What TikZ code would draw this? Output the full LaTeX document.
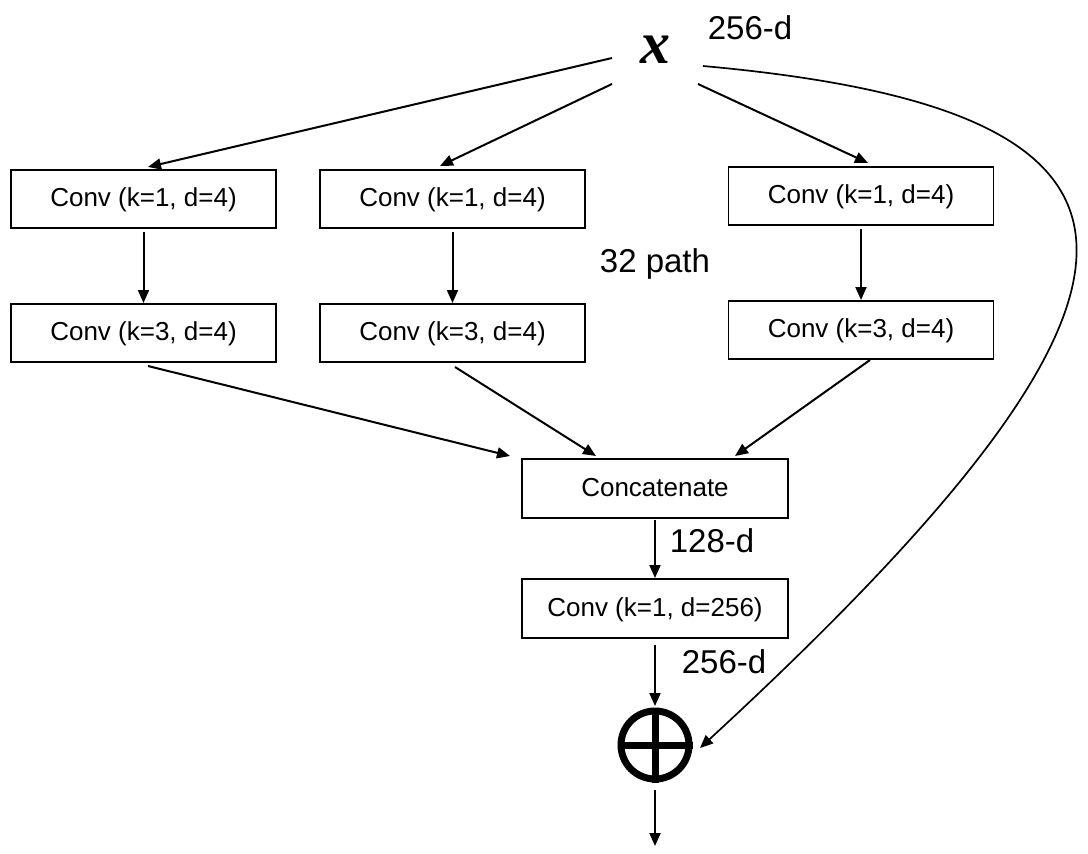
\documentclass[tikz,border=0pt]{standalone}
\usepackage{fontspec}
\newfontfamily\labelfont{Liberation Sans}
\newfontfamily\varfont{Liberation Serif}
\usetikzlibrary{arrows.meta}
\begin{document}
\begin{tikzpicture}[x=1pt,y=-1pt,
  convbox/.style={draw, line width=1.3pt, minimum width=265pt, minimum height=58pt,
    inner sep=0pt, text height=19pt, text depth=4pt, font=\labelfont\fontsize{26}{30}\selectfont},
  dimlabel/.style={font=\labelfont\fontsize{33}{40}\selectfont, inner sep=0pt},
  flow/.style={line width=2pt, -{Triangle[length=13pt,width=11pt]}}]
\useasboundingbox (0,0) rectangle (1088,854);

% input
\node[inner sep=0pt, font=\varfont\bfseries\itshape\fontsize{60}{64}\selectfont] (x) at (655,50) {x};
\node[dimlabel] (dx) at (750,28) {256-d};

% three of the 32 paths
\node[convbox] (a1) at (143.5,199) {Conv (k=1, d=4)};
\node[convbox] (b1) at (452.5,199) {Conv (k=1, d=4)};
\node[convbox] (c1) at (861,196) {Conv (k=1, d=4)};
\node[convbox] (a3) at (143.5,333) {Conv (k=3, d=4)};
\node[convbox] (b3) at (452.5,333) {Conv (k=3, d=4)};
\node[convbox] (c3) at (861,330) {Conv (k=3, d=4)};
\node[dimlabel] (np) at (655,264) {32 path};

% merge
\node[convbox, minimum width=266pt, minimum height=59pt] (cat) at (655,488.5) {Concatenate};
\node[convbox, minimum width=266pt, minimum height=59pt] (proj) at (655,608.5) {Conv (k=1, d=256)};
\node[dimlabel] (d128) at (712,541) {128-d};
\node[dimlabel] (d256) at (724,662) {256-d};

% sum
\node[circle, draw, line width=7pt, minimum size=68pt, inner sep=0pt] (sum) at (655,745) {};
\draw[line width=7pt] (sum.north) -- (sum.south) (sum.west) -- (sum.east);
\coordinate (out) at (655,846);

% connectors
\coordinate (xa) at (612,58);
\coordinate (xb) at (612,84);
\coordinate (xc) at (698,84);
\coordinate (xr) at (703,66);
\draw[flow] (xa) -- (148,167);
\draw[flow] (xb) -- (440,166);
\draw[flow] (xc) -- (868,163);
\draw[flow] (a1.south |- 0,232) -- (a3.north |- 0,303);
\draw[flow] (b1.south |- 0,232) -- (b3.north |- 0,303);
\draw[flow] (c1.south |- 0,229) -- (c3.north |- 0,300);
\draw[flow] (148,366) -- (510,456);
\draw[flow] (455,367) -- (596,456);
\draw[flow] (870,360) -- (735,456);
\draw[flow] (655,520) -- (655,578);
\draw[flow] (655,645) -- (655,706);
\draw[flow] (655,790) -- (out);
\draw[line width=1.7pt, -{Triangle[length=13pt,width=11pt]}]
  (xr) .. controls (1190,110) and (1210,278) .. (700,748);
\end{tikzpicture}
\end{document}
